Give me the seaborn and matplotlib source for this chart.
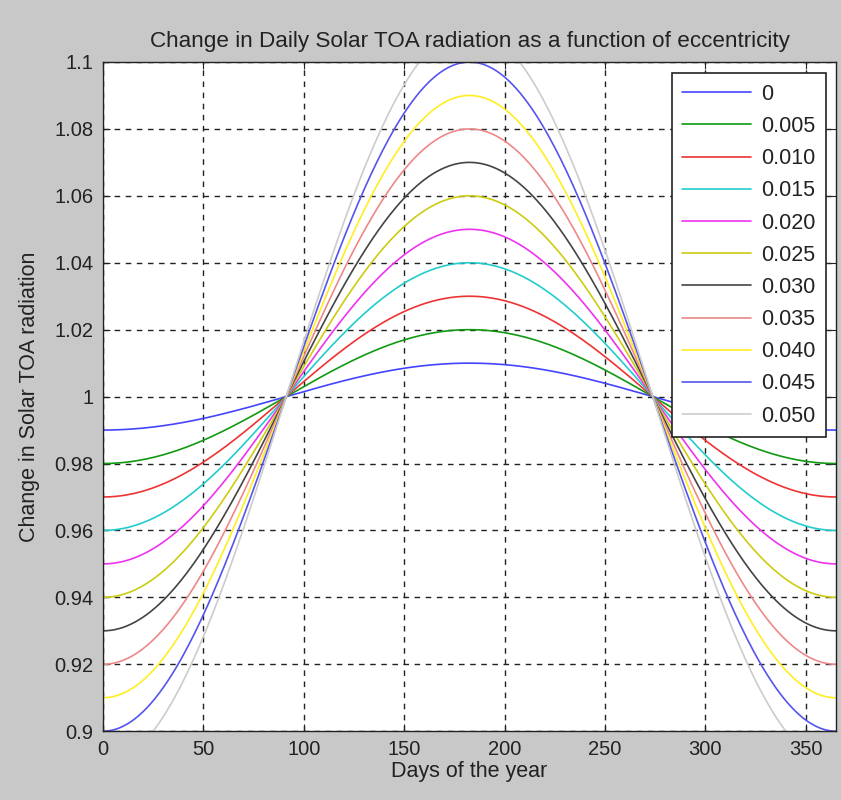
import numpy as np
import pandas as pd
import seaborn as sns
import matplotlib
matplotlib.use("Agg")
import matplotlib.pyplot as plt

# legend labels (eccentricity) and the values
ecc_labels = ["0", "0.005", "0.010", "0.015", "0.020", "0.025",
              "0.030", "0.035", "0.040", "0.045", "0.050"]
jan_values = [0.99, 0.98, 0.97, 0.96, 0.95, 0.94, 0.93, 0.92, 0.91, 0.90, 0.89]
peak_values = [1.01, 1.02, 1.03, 1.04, 1.05, 1.06, 1.07, 1.08, 1.09, 1.10, 1.11]
peak_day = 182.5
colors = ["#4444ff", "#119911", "#ee3333", "#22cccc", "#ee33ee", "#cccc11",
          "#444444", "#ee8888", "#ffee22", "#5555ee", "#cccccc"]
days = np.arange(0, 366)

rows = []
for lab, lo, hi in zip(ecc_labels, jan_values, peak_values):
    mid = (lo + hi) / 2
    amp = (hi - lo) / 2
    vals = mid - amp * np.cos(np.pi * days / peak_day)
    rows.append(pd.DataFrame({"day": days, "val": vals, "ecc": lab}))
df = pd.concat(rows, ignore_index=True)

sns.set_style("white")
plt.rcParams["font.family"] = ["Liberation Sans", "DejaVu Sans"]
txt = "#222222"

fig = plt.figure(figsize=(8.41, 8.0), dpi=100, facecolor="#c8c8c8")
ax = fig.add_axes([0.1225, 0.086, 0.8715, 0.8365])
sns.lineplot(data=df, x="day", y="val", hue="ecc", palette=colors,
             hue_order=ecc_labels, linewidth=1.2, ax=ax)

ax.set_xlim(0, 365)
ax.set_ylim(0.9, 1.1)
ax.set_xticks(np.arange(0, 351, 50))
yt = np.round(np.arange(0.9, 1.1001, 0.02), 2)
ax.set_yticks(yt)
ax.set_yticklabels([("%g" % v) for v in yt])
ax.tick_params(direction="in", length=5, labelsize=14.5, colors=txt,
               top=True, right=True, bottom=True, left=True)
ax.tick_params(axis="y", pad=7)
ax.tick_params(axis="x", pad=6)
ax.grid(True, color=txt, linestyle=(0, (4, 4)), linewidth=1)
for s in ax.spines.values():
    s.set_color(txt)
    s.set_linewidth(1)
ax.set_xlabel("Days of the year", fontsize=15.5, color=txt, labelpad=2)
ax.set_ylabel("Change in Solar TOA radiation", fontsize=15.5, color=txt, labelpad=10)
ax.set_title("Change in Daily Solar TOA radiation as a function of eccentricity",
             fontsize=16.2, color=txt, pad=11)

leg = ax.legend(loc="upper right", fontsize=15.5, frameon=True, fancybox=False,
                edgecolor=txt, framealpha=1, handlelength=3.2, handletextpad=0.45,
                labelspacing=0.52, borderpad=0.5, borderaxespad=0,
                bbox_to_anchor=(0.9864, 0.9836))
leg.get_frame().set_linewidth(1.2)
for t in leg.get_texts():
    t.set_color(txt)

fig.savefig("out.png", dpi=100, facecolor=fig.get_facecolor())
